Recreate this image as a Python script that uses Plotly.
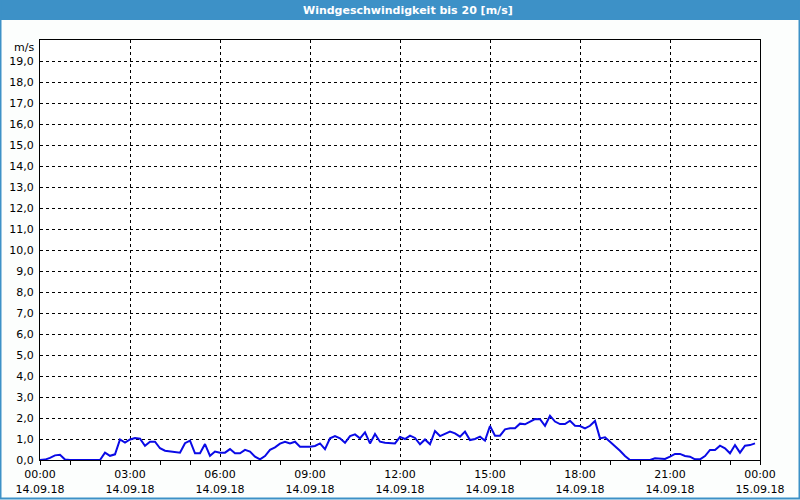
import plotly.graph_objects as go
import pandas as pd

# ---- data (10-minute wind speed, m/s) ----
start_time = "2018-09-14 00:00"
step_minutes = 10
speed = [
    0, 0.02, 0.1, 0.22, 0.25, 0.02, 0, 0, 0.03, 0.03, 0.03, 0.02,
    0, 0.35, 0.2, 0.27, 0.98, 0.83, 0.98, 1.05, 1.02, 0.68, 0.87, 0.87,
    0.56, 0.44, 0.42, 0.38, 0.35, 0.8, 0.92, 0.32, 0.32, 0.76, 0.2, 0.4,
    0.35, 0.35, 0.52, 0.32, 0.32, 0.48, 0.4, 0.16, 0.03, 0.19, 0.48, 0.6,
    0.78, 0.87, 0.79, 0.87, 0.63, 0.63, 0.63, 0.67, 0.79, 0.52, 1.03, 1.14,
    1.03, 0.82, 1.14, 1.22, 1.03, 1.32, 0.79, 1.24, 0.87, 0.82, 0.82, 0.79,
    1.1, 1.0, 1.16, 1.05, 0.75, 0.98, 0.75, 1.38, 1.14, 1.24, 1.35, 1.27,
    1.11, 1.35, 0.95, 1.0, 1.11, 0.92, 1.62, 1.16, 1.16, 1.46, 1.51, 1.51,
    1.73, 1.7, 1.83, 1.95, 1.94, 1.63, 2.11, 1.83, 1.71, 1.71, 1.87, 1.63,
    1.62, 1.51, 1.63, 1.86, 1.03, 1.08, 0.87, 0.67, 0.44, 0.19, 0, 0,
    0, 0, 0, 0.08, 0.08, 0.05, 0.16, 0.29, 0.29, 0.19, 0.16, 0.03,
    0.03, 0.19, 0.48, 0.48, 0.68, 0.56, 0.32, 0.71, 0.35, 0.68, 0.71, 0.79,
]
times = pd.date_range(start_time, periods=len(speed), freq=f"{step_minutes}min")

x_tick_vals = pd.date_range("2018-09-14 00:00", "2018-09-15 00:00", freq="3h")
x_tick_text = ["00:00<br>14.09.18", "03:00<br>14.09.18", "06:00<br>14.09.18",
               "09:00<br>14.09.18", "12:00<br>14.09.18", "15:00<br>14.09.18",
               "18:00<br>14.09.18", "21:00<br>14.09.18", "00:00<br>15.09.18"]
y_tick_vals = list(range(0, 20))
y_tick_text = [f"{v},0" for v in y_tick_vals]

title_text = "Windgeschwindigkeit bis 20 [m/s]"
unit_text = "m/s"

BLUE_BAR = "#3d91c7"
W, H = 800, 500
L, R, T, B = 40, 40, 40, 40
PW, PH = W - L - R, H - T - B

fig = go.Figure()
fig.add_trace(go.Scatter(x=times, y=speed, mode="lines",
                         line=dict(color="#0a0ae6", width=2), hoverinfo="skip"))

font = dict(family="DejaVu Sans", size=11, color="#000000")
DASH = "3px,3px"

fig.update_layout(
    width=W, height=H,
    margin=dict(l=L, r=R, t=T, b=B, autoexpand=False),
    paper_bgcolor="#fcfefd",
    plot_bgcolor="#ffffff",
    showlegend=False,
    font=font,
    xaxis=dict(
        type="date", automargin=False,
        range=[x_tick_vals[0], x_tick_vals[-1]],
        tickvals=list(x_tick_vals), ticktext=x_tick_text,
        ticks="outside", ticklen=4, tickcolor="#000000",
        showgrid=True, gridcolor="#000000", griddash=DASH, gridwidth=1,
        minor=dict(dtick=3600000, ticks="outside", ticklen=4, tickcolor="#000000", showgrid=False),
        showline=True, linecolor="#000000", linewidth=1, mirror=True,
        zeroline=False, tickfont=font,
    ),
    yaxis=dict(
        range=[0, 20], automargin=False,
        tickvals=y_tick_vals, ticktext=y_tick_text,
        ticks="", showgrid=True, gridcolor="#000000", griddash=DASH, gridwidth=1,
        showline=True, linecolor="#000000", linewidth=1, mirror=True,
        zeroline=False, tickfont=font, ticklabelstandoff=3,
    ),
)

# title bar
fig.add_shape(type="rect", xref="paper", yref="paper",
              x0=-L / PW - 0.01, x1=1 + R / PW + 0.01,
              y0=1 + (T - 20) / PH, y1=1 + T / PH + 0.01,
              fillcolor=BLUE_BAR, line=dict(width=0), layer="above")
fig.add_annotation(text=f"<b>{title_text}</b>", xref="paper", yref="paper",
                   x=0.5 + 8 / PW, y=1 + (T - 10) / PH, showarrow=False,
                   font=dict(family="DejaVu Sans", size=11, color="#ffffff"),
                   xanchor="center", yanchor="middle")
# outer blue frame
fig.add_shape(type="rect", xref="paper", yref="paper",
              x0=(-L + 0.5) / PW, x1=1 + (R - 0.5) / PW,
              y0=(-B + 1.5) / PH, y1=1 + T / PH,
              line=dict(color=BLUE_BAR, width=2), fillcolor="rgba(0,0,0,0)", layer="above")
# unit label
fig.add_annotation(text=unit_text, xref="paper", yref="paper",
                   x=-4 / PW, y=1 - 7 / PH, showarrow=False,
                   font=font, xanchor="right", yanchor="middle")

fig.write_html("out.html")
